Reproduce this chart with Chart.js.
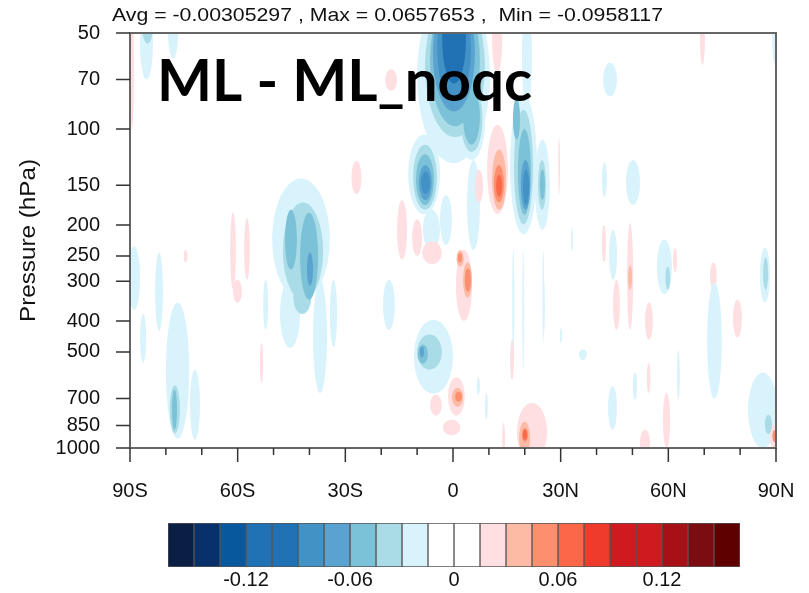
<!DOCTYPE html>
<html>
<head>
<meta charset="utf-8">
<script src="https://cdn.jsdelivr.net/npm/chart.js@4.4.1/dist/chart.umd.min.js"></script>
<style>
  html, body { margin: 0; padding: 0; background: #fff; }
  #wrap { position: relative; width: 809px; height: 593px; overflow: hidden; }
  #field { position: absolute; left: 0; top: 0; }
  #bar { position: absolute; left: 0; top: 500px; }
</style>
</head>
<body>
<div id="wrap">
  <canvas id="field" width="809" height="593"></canvas>
  <canvas id="bar" width="809" height="93"></canvas>
</div>
<script>
// ---- axes / legend values ----
const pressureTicks = [50, 70, 100, 150, 200, 250, 300, 400, 500, 700, 850, 1000];
const latTicks = [-90, -60, -30, 0, 30, 60, 90];
const latTickLabels = ["90S", "60S", "30S", "0", "30N", "60N", "90N"];
const latMinorTicks = [-80, -70, -50, -40, -20, -10, 10, 20, 40, 50, 70, 80];

const levels = [-0.15, -0.135, -0.12, -0.105, -0.09, -0.075, -0.06, -0.045, -0.03, -0.015, 0,
                0.015, 0.03, 0.045, 0.06, 0.075, 0.09, 0.105, 0.12, 0.135, 0.15];
const levelColors = ["#0b1e43", "#08306b", "#08589e", "#2171b5", "#2171b5", "#4292c6", "#5aa2cf",
                     "#7bc1d7", "#a9dce6", "#d9f3fd", "#ffffff", "#ffffff", "#ffdfe1", "#fdbba5",
                     "#fc8f6e", "#fb6848", "#ef3b2c", "#cf1a20", "#cf1a20", "#a61016", "#7b0c12", "#5f0000"];
const barTicks = [-0.12, -0.06, 0, 0.06, 0.12];
const barTickLabels = ["-0.12", "-0.06", "0", "0.06", "0.12"];

const titleText = "Avg = -0.00305297 , Max = 0.0657653 ,  Min = -0.0958117";
const panelText = "ML - ML_noqc";

// ---- field patches: [latWest, latEast, pTop, pBottom, value] ----
const tropUpper = [
  [-10, 10.3, 36, 128, -0.02], [-7.8, 8.9, 38, 106, -0.035], [-6.4, 7.5, 38, 98, -0.05],
  [-5.6, 6.1, 38, 88, -0.065], [-4.4, 5.0, 38, 82, -0.08], [-3.0, 3.6, 38, 72, -0.095],
  [1.4, 8.9, 73, 125, -0.02], [2.2, 8.2, 74, 118, -0.035], [2.8, 7.5, 75, 112, -0.05],
  [3.9, 7.5, 125, 240, -0.02], [-8.4, -3.6, 179, 239, -0.02], [-3.6, -0.3, 161, 231, -0.02],
  [-12.5, -3.6, 104, 185, -0.02], [-11.1, -4.5, 112, 179, -0.035], [-10.3, -5.3, 120, 173, -0.05],
  [-9.5, -5.9, 130, 167, -0.065], [-8.9, -6.4, 136, 160, -0.08],
  [9.5, 15.3, 97, 185, 0.02], [10.9, 14.8, 116, 179, 0.035], [11.4, 14.2, 130, 170, 0.05],
  [12.0, 13.7, 139, 163, 0.065], [6.1, 8.4, 134, 170, 0.02],
  [15.9, 23.4, 78, 214, -0.02], [17.0, 22.3, 87, 199, -0.035], [18.1, 21.7, 100, 186, -0.05],
  [18.9, 21.5, 125, 179, -0.065], [19.5, 21.2, 134, 173, -0.08], [16.7, 18.7, 80, 108, -0.05],
  [19.2, 22.0, 42, 85, -0.02],
  [22.8, 27.0, 108, 207, -0.02], [23.7, 25.9, 125, 179, -0.035], [24.2, 25.6, 134, 167, -0.05],
  [10.9, 13.7, 42, 67, 0.02], [-18.9, -15.6, 65, 76, 0.02], [-28.3, -25.5, 126, 160, 0.02]
];

const southJet = [
  [-50.4, -34.3, 143, 343, -0.02], [-47.4, -36.2, 170, 343, -0.035],
  [-46.8, -43.5, 179, 276, -0.05], [-42.6, -37.6, 183, 343, -0.05],
  [-40.7, -39.0, 244, 310, -0.065], [-44.5, -39.5, 300, 380, -0.035],
  [-48.2, -42.6, 297, 485, -0.02], [-39.0, -35.1, 297, 672, -0.02],
  [-34.3, -32.3, 297, 482, -0.02], [-52.9, -51.5, 297, 426, -0.02]
];

const lowerTrop = [
  [-10.9, 0, 396, 676, -0.02], [-10.0, -3.1, 441, 568, -0.035], [-9.8, -7.0, 474, 544, -0.05],
  [-9.2, -8.1, 481, 520, -0.065],
  [-1.4, 3.3, 600, 792, 0.02], [-0.3, 2.8, 647, 743, 0.035], [0.6, 2.5, 666, 716, 0.05],
  [17.8, 26.2, 722, 1100, 0.02], [18.4, 21.5, 827, 1050, 0.035], [19.2, 20.9, 866, 956, 0.05],
  [19.5, 20.6, 876, 942, 0.065],
  [-6.4, -3.1, 680, 792, 0.02], [-2.8, 2.0, 815, 913, 0.02],
  [0.8, 5.3, 239, 400, 0.02], [1.0, 3.0, 240, 270, 0.035], [2.8, 5.3, 262, 338, 0.035],
  [3.3, 5.0, 273, 324, 0.05], [1.4, 2.5, 245, 262, 0.05],
  [-11.4, -8.6, 192, 250, 0.02], [-8.6, -3.1, 225, 265, 0.02], [-15.6, -12.8, 167, 257, 0.02],
  [-19.5, -16.2, 297, 426, -0.02], [16.5, 17.1, 239, 525, -0.02], [19.3, 19.8, 239, 570, -0.02],
  [24.9, 25.4, 239, 470, -0.02], [15.9, 17.0, 458, 611, 0.02], [13.7, 14.5, 833, 1050, 0.02],
  [8.9, 9.7, 672, 815, -0.02], [6.6, 7.5, 600, 680, -0.02]
];

const southEdge = [
  [-90, -88.9, 42, 100, 0.02], [-61.3, -58.8, 297, 351, 0.02], [-53.8, -52.9, 468, 625, 0.02],
  [-62.1, -60.5, 182, 319, 0.02], [-58.2, -56.6, 190, 297, 0.02], [-75, -74, 239, 262, 0.02],
  [-90.5, -87.2, 233, 369, -0.02], [-83, -80.8, 243, 430, -0.02], [-80, -73.5, 350, 935, -0.02],
  [-73.3, -70.5, 568, 942, -0.02], [-78.9, -76.1, 636, 900, -0.035], [-78.3, -76.9, 657, 876, -0.05],
  [-87.2, -85.5, 380, 540, -0.02], [-87.2, -83.6, 42, 70, -0.02], [-79.4, -76.6, 42, 60, -0.02],
  [-86.6, -83.6, 42, 54, -0.035]
];

const northSide = [
  [41.8, 45.7, 62, 79, -0.02], [41.5, 42.9, 127, 163, -0.02], [48.2, 52.1, 125, 173, -0.02],
  [32.9, 33.4, 203, 243, -0.02], [29.3, 29.8, 106, 161, 0.02], [41.5, 42.6, 200, 262, 0.02],
  [43.5, 45.7, 207, 297, -0.02], [48.5, 50.2, 197, 426, 0.02], [48.8, 49.9, 268, 319, 0.035],
  [44.6, 46.5, 297, 426, 0.02], [53.5, 55.7, 350, 458, 0.02], [56.8, 61.0, 222, 330, -0.02],
  [59.2, 60.5, 270, 319, -0.035], [61.3, 62.4, 236, 281, 0.02], [71.6, 73.5, 262, 319, 0.02],
  [70.8, 74.9, 303, 700, -0.02], [78.0, 80.5, 343, 450, 0.02], [85.5, 88.3, 235, 350, -0.02],
  [86.4, 87.8, 253, 319, -0.035], [82.2, 90.5, 580, 1000, -0.02], [86.9, 88.9, 786, 905, -0.035],
  [88.3, 90.5, 840, 1000, 0.02], [89.0, 90.5, 876, 960, 0.05], [58.5, 60.5, 672, 1000, 0.02],
  [43.2, 45.7, 640, 876, -0.02], [52.1, 54.9, 876, 1050, 0.02], [88.9, 90.5, 40, 63, -0.02],
  [50.1, 51.3, 580, 706, -0.02], [54.0, 55.0, 540, 672, 0.02], [62.4, 63.2, 492, 706, -0.02],
  [25.1, 25.6, 301, 436, -0.02], [29.8, 30.4, 420, 470, -0.02], [35.1, 37.3, 490, 530, -0.02],
  [68.8, 70.2, 42, 63, 0.02]
];

const patches = [...tropUpper, ...southJet, ...lowerTrop, ...southEdge, ...northSide];

function colorFor(v) {
  let i = 0;
  while (i < levels.length && v >= levels[i]) i++;
  return levelColors[i];
}

const ink = "#111";

const fieldPlugin = {
  id: "field",
  beforeDatasetsDraw(chart) {
    const { ctx, chartArea: a, scales: { x, y } } = chart;
    ctx.save();
    ctx.beginPath();
    ctx.rect(a.left, a.top, a.width, a.height);
    ctx.clip();
    patches.slice()
      .sort((p, q) => Math.abs(p[4]) - Math.abs(q[4]))
      .forEach(([w, e, top, bot, v]) => {
        const x0 = x.getPixelForValue(w), x1 = x.getPixelForValue(e);
        const y0 = y.getPixelForValue(top), y1 = y.getPixelForValue(bot);
        ctx.fillStyle = colorFor(v);
        ctx.beginPath();
        ctx.ellipse((x0 + x1) / 2, (y0 + y1) / 2, Math.max(Math.abs(x1 - x0) / 2, 0.8),
          Math.abs(y1 - y0) / 2, 0, 0, Math.PI * 2);
        ctx.fill();
      });
    ctx.restore();
  },
  afterDraw(chart) {
    const { ctx, chartArea: a, scales: { x, y } } = chart;
    ctx.save();
    // frame
    ctx.strokeStyle = "#666";
    ctx.lineWidth = 2;
    ctx.strokeRect(a.left, a.top, a.width, a.height);
    // tick marks
    ctx.strokeStyle = "#333";
    ctx.lineWidth = 1.5;
    ctx.beginPath();
    pressureTicks.forEach((p) => {
      const py = y.getPixelForValue(p);
      ctx.moveTo(a.left - 14, py);
      ctx.lineTo(a.left, py);
    });
    latTicks.forEach((l) => {
      const px = x.getPixelForValue(l);
      ctx.moveTo(px, a.bottom);
      ctx.lineTo(px, a.bottom + 14);
    });
    latMinorTicks.forEach((l) => {
      const px = x.getPixelForValue(l);
      ctx.moveTo(px, a.bottom);
      ctx.lineTo(px, a.bottom + 7);
    });
    ctx.stroke();

    ctx.fillStyle = ink;
    // title
    ctx.font = "19px 'Liberation Sans', Arial, sans-serif";
    ctx.textBaseline = "alphabetic";
    ctx.textAlign = "left";
    let tw = ctx.measureText(titleText).width;
    ctx.save();
    ctx.translate(112, 21);
    ctx.scale(551 / tw, 1);
    ctx.fillText(titleText, 0, 0);
    ctx.restore();

    // axis title
    ctx.save();
    ctx.font = "22px 'Liberation Sans', Arial, sans-serif";
    tw = ctx.measureText("Pressure (hPa)").width;
    ctx.translate(29, (a.top + a.bottom) / 2);
    ctx.rotate(-Math.PI / 2);
    ctx.scale(163 / tw, 1);
    ctx.textAlign = "center";
    ctx.textBaseline = "middle";
    ctx.fillText("Pressure (hPa)", 0, 0);
    ctx.restore();

    // panel label
    ctx.save();
    ctx.fillStyle = "#000";
    ctx.font = "bold 57px Lato, 'Open Sans', sans-serif";
    tw = ctx.measureText(panelText).width;
    ctx.translate(157, 101);
    ctx.scale(375 / tw, 1);
    ctx.fillText(panelText, 0, 0);
    ctx.restore();
    ctx.restore();
  }
};

const tickFont = { family: "'Liberation Sans', Arial, sans-serif", size: 20 };

new Chart(document.getElementById("field"), {
  type: "scatter",
  data: { datasets: [] },
  options: {
    responsive: false,
    animation: false,
    layout: { padding: { left: 0, right: 33, top: 33, bottom: 93 } },
    scales: {
      x: {
        type: "linear",
        min: -90,
        max: 90,
        afterBuildTicks: (s) => { s.ticks = latTicks.map((v) => ({ value: v })); },
        afterFit: (s) => { s.height = 52; s.paddingLeft = 0; s.paddingRight = 0; },
        ticks: {
          autoSkip: false,
          maxRotation: 0,
          padding: 31,
          color: ink,
          font: tickFont,
          callback: (v) => latTickLabels[latTicks.indexOf(v)]
        },
        grid: { display: false, drawTicks: false },
        border: { display: false }
      },
      y: {
        type: "logarithmic",
        reverse: true,
        min: 50,
        max: 1000,
        afterBuildTicks: (s) => { s.ticks = pressureTicks.map((v) => ({ value: v })); },
        afterFit: (s) => { s.width = 130; s.paddingTop = 0; s.paddingBottom = 0; },
        ticks: {
          autoSkip: false,
          padding: 30,
          color: ink,
          font: tickFont,
          callback: (v) => String(v)
        },
        grid: { display: false, drawTicks: false },
        border: { display: false }
      }
    },
    plugins: { legend: { display: false }, tooltip: { enabled: false } }
  },
  plugins: [fieldPlugin]
});

// ---- colour bar ----
const edges = [-0.165, ...levels, 0.165];
new Chart(document.getElementById("bar"), {
  type: "bar",
  data: {
    labels: [""],
    datasets: levelColors.map((c, i) => ({
      data: [[edges[i], edges[i + 1]]],
      backgroundColor: c,
      borderColor: "#555",
      borderWidth: 1,
      borderSkipped: false,
      barPercentage: 1,
      categoryPercentage: 1,
      grouped: false
    }))
  },
  options: {
    responsive: false,
    animation: false,
    indexAxis: "y",
    layout: { padding: { left: 168, right: 69, top: 23, bottom: 0 } },
    scales: {
      x: {
        type: "linear",
        min: -0.165,
        max: 0.165,
        afterBuildTicks: (s) => { s.ticks = barTicks.map((v) => ({ value: v })); },
        afterFit: (s) => { s.height = 26; s.paddingLeft = 0; s.paddingRight = 0; },
        ticks: {
          autoSkip: false,
          maxRotation: 0,
          padding: 1,
          color: ink,
          font: tickFont,
          callback: (v) => barTickLabels[barTicks.indexOf(v)]
        },
        grid: { display: false, drawTicks: false },
        border: { display: false }
      },
      y: { display: false }
    },
    plugins: { legend: { display: false }, tooltip: { enabled: false } }
  }
});
</script>
</body>
</html>
